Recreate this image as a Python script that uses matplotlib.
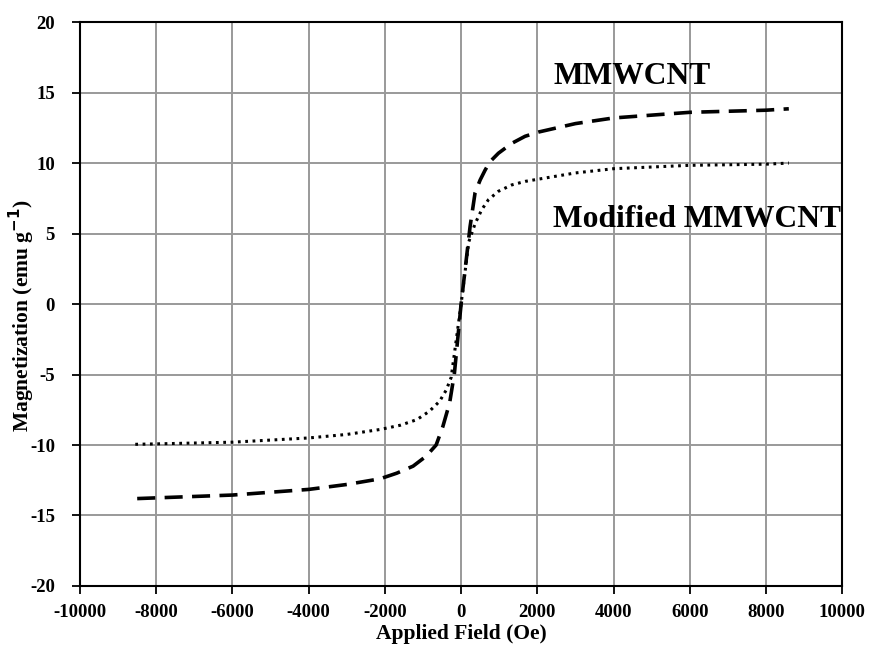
import matplotlib
matplotlib.use("Agg")
import matplotlib.pyplot as plt

# Data
field_mm = [-8500, -8000, -6000, -4000, -3000, -2130, -1690, -1260, -920, -655, -480, -300, -175,
            0, 236, 367, 500, 630, 760, 980, 1330, 1680, 2030, 3000, 4000, 6000, 8000, 8600]
mag_mm = [-13.8, -13.75, -13.55, -13.15, -12.8, -12.4, -12.0, -11.5, -10.8, -10.0, -8.7, -7.0, -4.9,
          0.0, 5.5, 7.9, 8.8, 9.5, 10.1, 10.7, 11.4, 11.9, 12.2, 12.8, 13.2, 13.6, 13.75, 13.85]

field_mod = [-8550, -8000, -6000, -4000, -3000, -2130, -1600, -1160, -830, -565, -390, -260,
             0, 200, 367, 543, 717, 980, 1330, 1680, 2120, 3000, 4000, 6000, 8000, 8600]
mag_mod = [-9.95, -9.92, -9.8, -9.5, -9.25, -8.9, -8.6, -8.2, -7.6, -6.9, -6.1, -5.2,
           0.0, 4.4, 5.7, 6.7, 7.4, 8.0, 8.45, 8.7, 8.9, 9.3, 9.6, 9.84, 9.92, 10.0]

x_ticks = list(range(-10000, 10001, 2000))
y_ticks = list(range(-20, 21, 5))

plt.rcParams['font.family'] = ['Liberation Serif', 'DejaVu Serif']
plt.rcParams['font.weight'] = 'bold'

fig = plt.figure(figsize=(8.7, 6.5), dpi=100)
ax = fig.add_axes([0.092, 0.0985, 0.876, 0.8675])

ax.plot(field_mm, mag_mm, color='black', lw=2.6, linestyle=(0, (5, 2.6)))
ax.plot(field_mod, mag_mod, color='black', lw=2.2, linestyle=(0, (0.9, 1.5)))

ax.set_xlim(-10000, 10000)
ax.set_ylim(-20, 20)
ax.set_xticks(x_ticks)
ax.set_yticks(y_ticks)
ax.set_xticklabels([str(v) for v in x_ticks], fontsize=13.5, fontweight='bold')
ax.set_yticklabels([str(v) for v in y_ticks], fontsize=13.5, fontweight='bold')
ax.grid(True, color='#999999', lw=1.4)
ax.set_axisbelow(True)
for s in ax.spines.values():
    s.set_color('black')
    s.set_linewidth(1.5)
ax.tick_params(axis='x', direction='out', length=6, width=1.3, colors='black', pad=7)
ax.tick_params(axis='y', direction='out', length=6, width=1.3, colors='black', pad=12)

ax.set_xlabel('Applied Field (Oe)', fontsize=15.5, fontweight='bold', labelpad=2)
ax.set_ylabel('Magnetization (emu g$^{\\mathbf{-1}}$)', fontsize=15.5, fontweight='bold')
ax.yaxis.set_label_coords(-0.057, 0.48)

ax.text(2415, 15.6, 'MMWCNT', fontsize=22.7, fontweight='bold', ha='left', va='baseline')
ax.text(2415, 5.5, 'Modified MMWCNT', fontsize=22.7, fontweight='bold', ha='left', va='baseline')

fig.savefig('out.png', dpi=100)
